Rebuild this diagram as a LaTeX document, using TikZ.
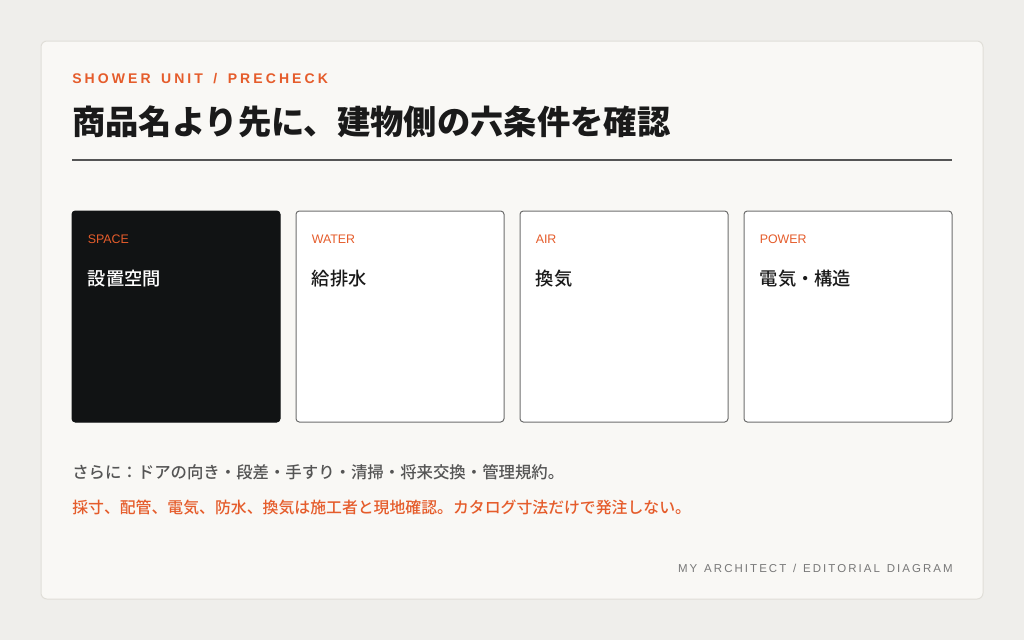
\documentclass[tikz,border=0pt]{standalone}
\usepackage{fontspec}
\setmainfont{Liberation Sans}
\newfontfamily\cjk{Noto Sans CJK JP}
\newfontfamily\cjkmed{Noto Sans CJK JP Medium}
\newfontfamily\spacedhead[LetterSpace=22, WordSpace=1.5]{Liberation Sans}
\newfontfamily\spacedfoot[LetterSpace=18, WordSpace=1.3]{Liberation Sans}
\usetikzlibrary{positioning, calc}
\definecolor{pagegray}{RGB}{239,238,235}
\definecolor{cardwhite}{RGB}{249,248,245}
\definecolor{cardedge}{RGB}{224,222,216}
\definecolor{accentorange}{RGB}{229,92,43}
\definecolor{inkblack}{RGB}{26,26,26}
\definecolor{boxblack}{RGB}{17,19,20}
\definecolor{rulegray}{RGB}{85,85,85}
\definecolor{textgray}{RGB}{85,85,85}
\definecolor{footgray}{RGB}{120,120,120}
\definecolor{edgegray}{RGB}{110,110,110}

\begin{document}
\begin{tikzpicture}[
        x=0.75pt, y=-0.75pt,
        cell/.style={rectangle, rounded corners=2.5pt, draw=edgegray, line width=0.75pt, fill=white, minimum width=156pt, minimum height=158.25pt, inner sep=0pt},
        tag/.style={anchor=west, inner sep=0pt, text=accentorange, font=\fontsize{9.3}{11}\selectfont},
        topic/.style={anchor=west, inner sep=0pt, text=inkblack, font=\cjkmed\fontsize{13.7}{16}\selectfont},
        note/.style={anchor=west, inner sep=0pt, font=\cjkmed\fontsize{11.9}{14}\selectfont}
    ]
        % page and card
        \fill[pagegray] (0,0) rectangle (1024,640);
        \draw[fill=cardwhite, draw=cardedge, line width=0.75pt, rounded corners=4.5pt] (41,41) rectangle (983,599);

        % heading
        \node[anchor=west, inner sep=0pt, text=accentorange, font=\spacedhead\bfseries\fontsize{10.5}{12}\selectfont] (kicker) at (72,79) {SHOWER UNIT / PRECHECK};
        \node[anchor=west, inner sep=0pt, text=inkblack, font=\cjk\bfseries\fontsize{25}{28}\selectfont] (title) at (72,122) {商品名より先に、建物側の六条件を確認};
        \draw[rulegray, line width=1.1pt] (72,160) -- (952,160);

        % four conditions
        \node[cell, fill=boxblack, draw=boxblack] (space) at (176,316.5) {};
        \node[cell] (water) at (400,316.5) {};
        \node[cell] (air) at (624,316.5) {};
        \node[cell] (power) at (848,316.5) {};

        \node[tag] (spacetag) at ($(space.north west)+(16,29)$) {SPACE};
        \node[tag] (watertag) at ($(water.north west)+(16,29)$) {WATER};
        \node[tag] (airtag) at ($(air.north west)+(16,29)$) {AIR};
        \node[tag] (powertag) at ($(power.north west)+(16,29)$) {POWER};

        \node[topic, text=white] (spacetopic) at ($(space.north west)+(16,68)$) {設置空間};
        \node[topic] (watertopic) at ($(water.north west)+(16,68)$) {給排水};
        \node[topic] (airtopic) at ($(air.north west)+(16,68)$) {換気};
        \node[topic] (powertopic) at ($(power.north west)+(16,68)$) {電気・構造};

        % notes
        \node[note, text=textgray, font=\cjkmed\fontsize{12.3}{14}\selectfont] (extra) at (72,472) {さらに：ドアの向き・段差・手すり・清掃・将来交換・管理規約。};
        \node[note, text=accentorange] (warning) at (72,507) {採寸、配管、電気、防水、換気は施工者と現地確認。カタログ寸法だけで発注しない。};

        \node[anchor=east, inner sep=0pt, text=footgray, font=\spacedfoot\fontsize{8.6}{10}\selectfont] (credit) at (953,568) {MY ARCHITECT / EDITORIAL DIAGRAM};
    \end{tikzpicture}
\end{document}
